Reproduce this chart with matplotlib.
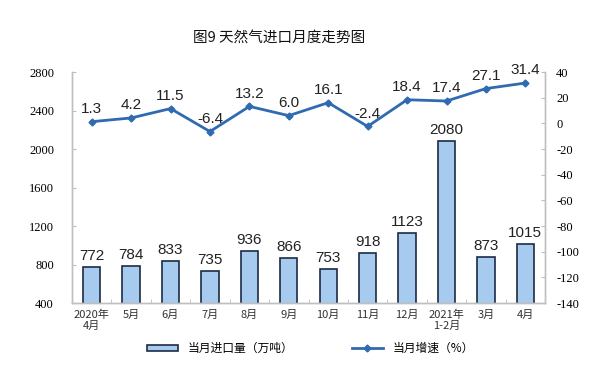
import matplotlib.pyplot as plt
import numpy as np

plt.rcParams['font.family'] = ['Noto Sans CJK SC', 'DejaVu Sans']

months = ["2020年\n4月", "5月", "6月", "7月", "8月", "9月", "10月", "11月", "12月",
          "2021年\n1-2月", "3月", "4月"]
imports = [772, 784, 833, 735, 936, 866, 753, 918, 1123, 2080, 873, 1015]
growth = [1.3, 4.2, 11.5, -6.4, 13.2, 6.0, 16.1, -2.4, 18.4, 17.4, 27.1, 31.4]

bar_color = "#a6cbef"
edge_color = "#1c2b45"
line_color = "#2f6bb0"
axis_color = "#bfbfbf"

fig = plt.figure(figsize=(5.97, 3.79), dpi=100)
ax = fig.add_axes([0.1206, 0.2005, 0.7924, 0.6095])
ax2 = ax.twinx()

x = np.arange(len(months))
ax.bar(x, imports, width=0.44, bottom=0, color=bar_color,
       edgecolor=edge_color, linewidth=1.2, label="当月进口量（万吨）")
ax.set_ylim(400, 2800)
ax.set_xlim(-0.5, len(months) - 0.5)
ax.set_yticks(np.arange(400, 2801, 400))
ax.set_yticklabels([str(v) for v in range(400, 2801, 400)],
                   family="Liberation Serif", fontsize=9)
ax.set_xticks(x)
ax.set_xticklabels(months, fontsize=8, color="#333333", linespacing=1.1)
ax.set_xticks(np.arange(-0.5, len(months)), minor=True)
ax.tick_params(axis="x", which="major", length=0, pad=5)
ax.tick_params(axis="x", which="minor", length=3, direction="in", color=axis_color)
ax.tick_params(axis="y", length=3, direction="in", color=axis_color, pad=13)

for xi, v in zip(x, imports):
    ax.annotate(str(v), (xi, v), xytext=(0, 3), textcoords="offset points",
                ha="center", va="bottom", family="Liberation Sans",
                fontsize=11, color="#222222")

ax2.plot(x, growth, color=line_color, linewidth=2, marker="D", markersize=3.5,
         label="当月增速（%）")
ax2.set_ylim(-140, 40)
ax2.set_yticks(np.arange(-140, 41, 20))
ax2.set_yticklabels([str(v) for v in range(-140, 41, 20)],
                    family="Liberation Serif", fontsize=9)
ax2.tick_params(axis="y", length=3, direction="in", color=axis_color, pad=8)

for xi, v in zip(x, growth):
    ax2.annotate(f"{v:.1f}", (xi, v), xytext=(0, 4), textcoords="offset points",
                 ha="center", va="bottom", family="Liberation Sans",
                 fontsize=11, color="#222222")

for a in (ax, ax2):
    a.spines["top"].set_visible(False)
    for s in ("left", "right", "bottom"):
        a.spines[s].set_color(axis_color)
        a.spines[s].set_linewidth(1)

fig.text(0.467, 0.90, "图9 天然气进口月度走势图", ha="center", va="center",
         fontsize=10.5, color="#111111")

h1, l1 = ax.get_legend_handles_labels()
h2, l2 = ax2.get_legend_handles_labels()
fig.legend(h1 + h2, l1 + l2, loc="center", bbox_to_anchor=(0.52, 0.08), ncol=2,
           frameon=False, fontsize=8.5, handlelength=2.6, handleheight=0.5,
           columnspacing=5)

fig.savefig("out.png", dpi=100)
